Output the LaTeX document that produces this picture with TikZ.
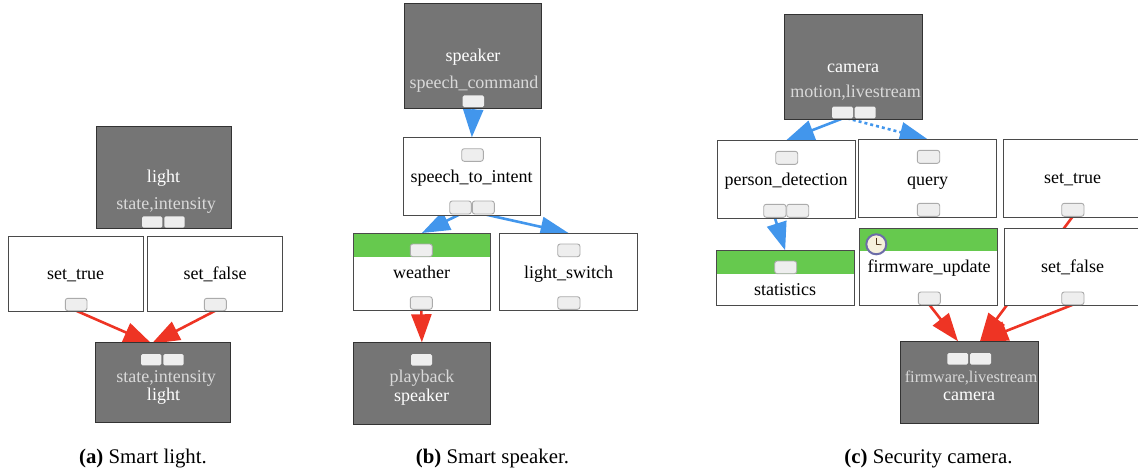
\documentclass[tikz,border=0pt]{standalone}
\usepackage{fontspec}
\setmainfont{Liberation Serif}
\usetikzlibrary{arrows.meta}
\definecolor{darkbox}{HTML}{757575}
\definecolor{dborder}{HTML}{333333}
\definecolor{wborder}{HTML}{4A4A4A}
\definecolor{bandgreen}{HTML}{66C94E}
\definecolor{edgeblue}{HTML}{4296EC}
\definecolor{edgered}{HTML}{EE3424}
\definecolor{portfill}{HTML}{EEEEEE}
\definecolor{portline}{HTML}{ABABAB}
\definecolor{attrtext}{HTML}{D9D9D9}
\definecolor{clockface}{HTML}{F6F1DC}
\definecolor{clockring}{HTML}{6C6CA8}
\pgfdeclarelayer{edges}
\pgfsetlayers{edges,main}
\tikzset{
  x=1pt,y=-1pt,
  every node/.style={inner sep=0pt,outer sep=0pt},
  whitebox/.style={rectangle,draw=wborder,fill=white,line width=1pt},
  darkfill/.style={rectangle,draw=dborder,fill=darkbox,line width=1pt},
  band/.style={rectangle,fill=bandgreen},
  wport/.style={rectangle,rounded corners=2.5pt,draw=portline,fill=portfill,line width=0.9pt},
  dport/.style={rectangle,rounded corners=1.5pt,fill=portfill},
  textpos/.style={anchor=center,text height=12pt,text depth=4pt,yshift=-1.5pt},
  lbl/.style={textpos,font=\fontsize{18}{20}\selectfont,text=black},
  namew/.style={textpos,font=\fontsize{18}{20}\selectfont,text=white},
  attr/.style={textpos,font=\fontsize{18}{20}\selectfont,text=attrtext},
  captxt/.style={font=\fontsize{20.8}{23}\selectfont,text=black,anchor=center,text height=14pt,text depth=5pt,yshift=-2.1pt},
  blueedge/.style={draw=edgeblue,line width=2.6pt,-{Triangle[length=28pt,width=20pt,fill=edgeblue]}},
  rededge/.style={draw=edgered,line width=2.6pt,-{Triangle[length=28pt,width=20pt,fill=edgered]}},
}
% \bx{style}{name}{x1}{y1}{x2}{y2}
\newcommand{\bx}[6]{%
  \pgfmathsetmacro{\mycx}{(#3+#5)/2}\pgfmathsetmacro{\mycy}{(#4+#6)/2}%
  \pgfmathsetmacro{\myw}{#5-#3}\pgfmathsetmacro{\myh}{#6-#4}%
  \node[#1,minimum width=\myw pt,minimum height=\myh pt] (#2) at (\mycx,\mycy) {};}
\begin{document}
\begin{tikzpicture}
\useasboundingbox (0,0) rectangle (1138,469);
% ---------- (a)
\bx{darkfill}{alight}{96}{126.7}{231}{228.7}
\bx{dport}{alightpa}{142}{216.3}{162.3}{227.7}
\bx{dport}{alightpb}{164.3}{216.3}{184.7}{227.7}
\node[namew] (alightn) at (163.5,177) {light};
\node[attr] (alighta) at (166,204) {state,intensity};
\bx{whitebox}{atrue}{8.3}{236}{143.3}{311.7}
\bx{wport}{atruep}{65.3}{298.3}{87}{310.7}
\node[lbl] (atruen) at (75.5,274) {set\_true};
\bx{whitebox}{afalse}{147.3}{236}{282.7}{311.7}
\bx{wport}{afalsep}{204.3}{298.3}{226.3}{310.7}
\node[lbl] (afalsen) at (215,274) {set\_false};
\bx{darkfill}{alightb}{95}{342.7}{230}{422.7}
\bx{dport}{abpa}{141}{354}{161.3}{365.3}
\bx{dport}{abpb}{163.3}{354}{183.7}{365.3}
\node[attr] (abattr) at (166,376.7) {state,intensity};
\node[namew] (abname) at (163.5,395) {light};
% ---------- (b)
\bx{darkfill}{bspk}{404}{3.7}{541.7}{108.3}
\bx{dport}{bspkp}{462.7}{95.3}{484}{107}
\node[namew] (bspkn) at (473,56) {speaker};
\node[attr] (bspka) at (474,83) {speech\_command};
\bx{whitebox}{bint}{403}{137.3}{540.7}{215}
\bx{wport}{bintp}{461.7}{148.7}{483.3}{161.3}
\node[lbl] (bintn) at (471.5,176.7) {speech\_to\_intent};
\bx{wport}{bintpa}{449.7}{201}{471.3}{214}
\bx{wport}{bintpb}{472.3}{201}{494.3}{214}
\bx{whitebox}{bwea}{353}{233}{490.7}{310.3}
\bx{band}{bweab}{353.6}{233.6}{490.1}{257.3}
\bx{wport}{bweap}{410.3}{244}{432.3}{256.7}
\node[lbl] (bwean) at (421.7,272.7) {weather};
\bx{wport}{bweaq}{410.3}{296.7}{432.3}{309.3}
\bx{whitebox}{bsw}{499.7}{233}{637.3}{310.3}
\bx{wport}{bswp}{557.7}{244}{580}{256.7}
\node[lbl] (bswn) at (568.5,272.7) {light\_switch};
\bx{wport}{bswq}{557.7}{296.7}{580}{309.3}
\bx{darkfill}{bspb}{353}{342.3}{490.7}{424}
\bx{dport}{bspbp}{411}{354}{432}{365.7}
\node[attr] (bspba) at (422,376.7) {playback};
\node[namew] (bspbn) at (421.7,395.7) {speaker};
% ---------- (c)
\bx{darkfill}{ccam}{784.7}{14.3}{922.7}{119.3}
\bx{dport}{ccampa}{832}{106.7}{853}{118.3}
\bx{dport}{ccampb}{854.7}{106.7}{875.7}{118.3}
\node[namew] (ccamn) at (853,66.7) {camera};
\node[attr] (ccama) at (855.5,91.7) {motion,livestream};
\bx{whitebox}{cpd}{717}{140.3}{855.3}{218.3}
\bx{wport}{cpdp}{775.7}{151.3}{797.7}{164.3}
\node[lbl] (cpdn) at (786,180) {person\_detection};
\bx{wport}{cpdpa}{763.7}{204.3}{786}{217.3}
\bx{wport}{cpdpb}{786.7}{204.3}{808.7}{217.3}
\bx{whitebox}{cq}{858.7}{139.3}{996.7}{217.3}
\bx{wport}{cqp}{917.3}{150.3}{939.7}{163.3}
\node[lbl] (cqn) at (927.5,180) {query};
\bx{wport}{cqq}{917.3}{203.3}{939.7}{216.3}
\bx{whitebox}{ctrue}{1003.3}{139.3}{1142}{217.3}
\bx{wport}{ctruep}{1061.7}{203.3}{1084}{216.3}
\node[lbl] (ctruen) at (1072.7,178) {set\_true};
\bx{whitebox}{cfw}{859.7}{228.3}{997.7}{305.7}
\bx{band}{cfwb}{860.3}{228.9}{997.1}{251}
\node[circle,draw=clockring,fill=clockface,line width=2pt,minimum size=20pt] (cclock) at (876.3,244.3) {};
\draw[black!60!brown,line width=0.7pt,line cap=round] (cclock.center) -- +(0,-6);
\draw[black!60!brown,line width=0.7pt,line cap=round] (cclock.center) -- +(5,0.5);
\bx{wport}{cfwp}{918.3}{292}{940.3}{304.7}
\node[lbl] (cfwn) at (929,267) {firmware\_update};
\bx{whitebox}{cfalse}{1004.3}{228.3}{1142}{305.7}
\bx{wport}{cfalsep}{1061.7}{292}{1084}{304.7}
\node[lbl] (cfalsen) at (1072.7,267) {set\_false};
\bx{whitebox}{cst}{716}{250.3}{854.3}{305}
\bx{band}{cstb}{716.6}{250.9}{853.7}{274}
\bx{wport}{cstp}{774.7}{261}{796.7}{273.7}
\node[lbl] (cstn) at (785,290) {statistics};
\bx{darkfill}{ccb}{900}{341.3}{1038}{423.3}
\bx{dport}{ccbpa}{947.3}{353}{968}{364.7}
\bx{dport}{ccbpb}{970}{353}{991}{364.7}
\node[attr,font=\fontsize{16.4}{19}\selectfont] (ccba) at (971,376.7) {firmware,livestream};
\node[namew] (ccbn) at (969,395) {camera};
% ---------- captions
\node[captxt] (capa) at (143,456.7) {\textbf{(a)} Smart light.};
\node[captxt] (capb) at (492.5,456.7) {\textbf{(b)} Smart speaker.};
\node[captxt] (capc) at (928.5,456.7) {\textbf{(c)} Security camera.};
% ---------- connectors
\begin{pgfonlayer}{edges}
\draw[rededge] (atruep.south) -- ([xshift=-10.8pt,yshift=-1pt]alightb.north);
\draw[rededge] (afalsep.south) -- ([xshift=-10.8pt,yshift=-1pt]alightb.north);
\draw[blueedge] (bspkp.south) -- (bint.north);
\draw[blueedge] (bintpa.south) -- (bwea.north);
\draw[blueedge] (bintpb.south) -- (bsw.north);
\draw[rededge] (bweaq.south) -- (bspb.north);
\draw[blueedge] ([xshift=-10pt]ccampa.south east) -- (cpd.north);
\draw[blueedge,dash pattern=on 3pt off 3pt] ([xshift=-6pt]ccampa.south east) -- (cq.north);
\draw[blueedge] ([xshift=-11pt,yshift=-1pt]cpdpa.south east) -- (cst.north);
\draw[rededge] (cfwp.south) -- ([xshift=-11pt]ccb.north);
\draw[rededge] (ctruep.south) -- ([xshift=11pt]ccb.north);
\draw[rededge] (cfalsep.south) -- ([xshift=11pt]ccb.north);
\end{pgfonlayer}
\end{tikzpicture}
\end{document}
